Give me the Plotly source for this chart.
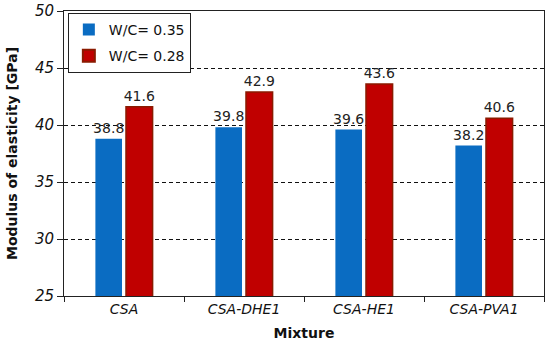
import plotly.graph_objects as go

categories = ["CSA", "CSA-DHE1", "CSA-HE1", "CSA-PVA1"]
wc035 = [38.8, 39.8, 39.6, 38.2]
wc028 = [41.6, 42.9, 43.6, 40.6]
yticks = [25, 30, 35, 40, 45, 50]

font_family = "DejaVu Sans, Verdana, sans-serif"

fig = go.Figure()
fig.add_trace(go.Bar(
    x=categories, y=wc035, name="W/C= 0.35", legendgroup="a",
    marker=dict(color="#0A6CC2", line=dict(width=0)),
    text=[f"{v:.1f}" for v in wc035], textposition="outside",
    constraintext="none",
    textfont=dict(size=14, color="#222222", family=font_family),
    cliponaxis=False,
))
fig.add_trace(go.Bar(
    x=categories, y=wc028, name="W/C= 0.28", legendgroup="b",
    marker=dict(color="#C00000", line=dict(width=1.5, color="#8A1A00")),
    text=[f"{v:.1f}" for v in wc028], textposition="outside",
    constraintext="none",
    textfont=dict(size=14, color="#222222", family=font_family),
    cliponaxis=False,
))

fig.update_layout(
    width=550, height=357,
    margin=dict(l=64, r=6, t=11, b=61, autoexpand=False),
    paper_bgcolor="white", plot_bgcolor="white",
    barmode="group", bargap=0.49, bargroupgap=0.13,
    font=dict(family=font_family, color="#111111"),
    showlegend=True,
    legend=dict(
        x=0.008, y=0.993, xanchor="left", yanchor="top",
        bordercolor="#222222", borderwidth=1, bgcolor="white",
        font=dict(size=14, family=font_family),
        itemsizing="constant", traceorder="grouped", tracegroupgap=5,
    ),
    xaxis=dict(
        title=dict(text="<b>Mixture</b>", font=dict(size=14, family=font_family), standoff=12),
        automargin=False,
        showline=True, linecolor="#222222", linewidth=1, mirror=True,
        ticks="outside", ticklen=5, tickcolor="#222222",
        tickson="boundaries",
        tickfont=dict(size=14, family=font_family, style="italic"),
        showgrid=False,
    ),
    yaxis=dict(
        title=dict(text="<b>Modulus of elasticity [GPa]</b>", font=dict(size=14, family=font_family), standoff=14),
        automargin=False,
        range=[25, 50], tickvals=yticks,
        showline=True, linecolor="#222222", linewidth=1, mirror=True,
        ticks="outside", ticklen=6, tickcolor="#222222",
        tickfont=dict(size=15, family=font_family, style="italic"),
        showgrid=True, gridcolor="#111111", griddash="4px,3px", gridwidth=1,
        zeroline=False,
    ),
)

fig.write_html(
    "out.html",
    config={"displayModeBar": False},
    post_script="document.body.style.margin='0';document.body.style.padding='0';",
)
